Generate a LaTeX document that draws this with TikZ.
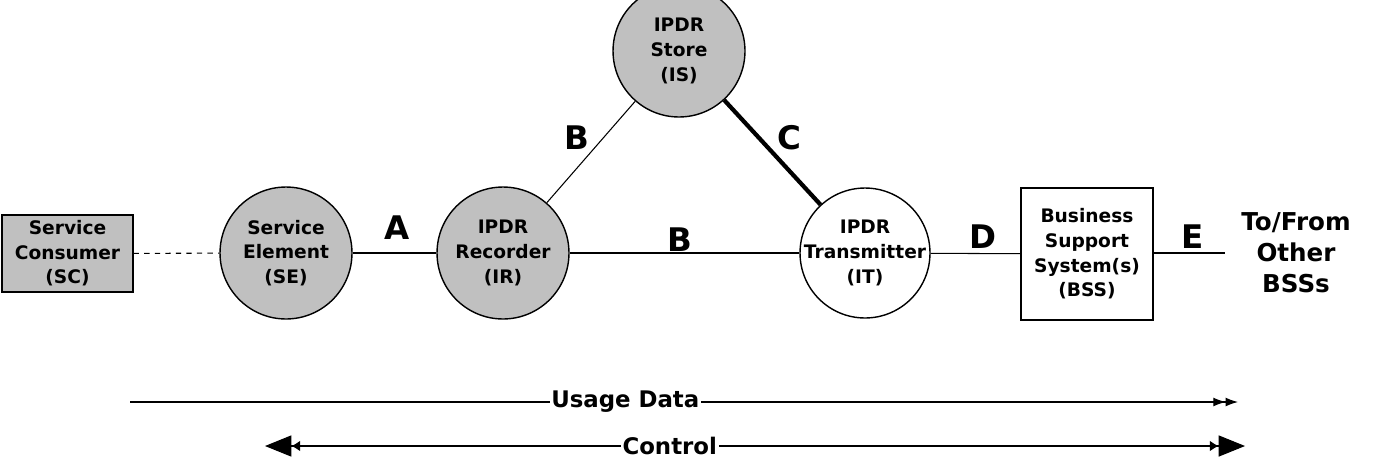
\documentclass[tikz,border=0pt]{standalone}
\usepackage{fontspec}
\setmainfont{DejaVu Sans}
\usetikzlibrary{arrows.meta}
\definecolor{nodegray}{HTML}{C0C0C0}
\begin{document}
\begin{tikzpicture}[x=0.02cm,y=-0.02cm,
  every node/.style={font=\bfseries\fontsize{10.6}{14}\selectfont, align=center},
  graycirc/.style={circle, draw, line width=0.8pt, fill=nodegray, minimum size=2.64cm, inner sep=0pt},
  whitecirc/.style={circle, draw, line width=0.8pt, fill=white, minimum size=2.6cm, inner sep=0pt},
  graybox/.style={rectangle, draw, line width=0.8pt, fill=nodegray, minimum width=2.62cm, minimum height=1.54cm, inner sep=0pt},
  whitebox/.style={rectangle, draw, line width=0.8pt, fill=white, minimum width=2.64cm, minimum height=2.64cm, inner sep=0pt},
  conn/.style={line width=0.6pt},
  biglabel/.style={font=\bfseries\fontsize{18.5}{20}\selectfont},
  sidelabel/.style={font=\bfseries\fontsize{14}{17.6}\selectfont},
  barlabel/.style={font=\bfseries\fontsize{13}{14}\selectfont, fill=white, inner sep=1pt}
]
\useasboundingbox (0,0) rectangle (1375,471);
\node[graybox] (sc) at (67.5,253.5) {Service\\Consumer\\(SC)};
\node[graycirc, label={center:Service\\Element\\(SE)}] (se) at (286,253) {};
\node[graycirc, label={center:IPDR\\Recorder\\(IR)}] (ir) at (503,253) {};
\node[graycirc, label={center:IPDR\\Store\\(IS)}] (is) at (679,51) {};
\node[whitecirc, label={center:IPDR\\Transmitter\\(IT)}] (it) at (865,253) {};
\node[whitebox, label={center:Business\\Support\\System(s)\\(BSS)}] (bss) at (1087,254) {};
\coordinate (eend) at (1225,253);
\node[sidelabel] (other) at (1296,253) {To/From\\Other\\BSSs};

\draw[conn, dashed] (sc) -- (se);
\draw[conn] (se) -- (ir);
\draw[conn] (ir) -- (it);
\draw[conn] (ir) -- (is);
\draw[line width=2.4pt] (is) -- (it);
\draw[conn] (it) -- (bss);
\draw[conn] (bss.east |- eend) -- (eend);

\node[biglabel] (la) at (397,228) {A};
\node[biglabel] (lb1) at (577,138) {B};
\node[biglabel] (lc) at (789,138) {C};
\node[biglabel] (lb2) at (680,240) {B};
\node[biglabel] (ld) at (983,237) {D};
\node[biglabel] (le) at (1193,237) {E};

\coordinate (u1) at (130,402);
\coordinate (u2) at (1238,402);
\draw[conn, -{Latex[length=7pt,width=5pt]Latex[length=7pt,width=5pt]}] (u1) -- (u2)
  node[barlabel, pos=0.447] (usage) {Usage Data};
\coordinate (c1) at (265,446);
\coordinate (c2) at (1245,446);
\draw[conn, {Triangle[length=15pt,width=12pt]Latex[length=5pt,width=6pt]}-{Latex[length=5pt,width=6pt]Triangle[length=15pt,width=12pt]}] (c1) -- (c2)
  node[barlabel, pos=0.413] (control) {Control};
\end{tikzpicture}
\end{document}
